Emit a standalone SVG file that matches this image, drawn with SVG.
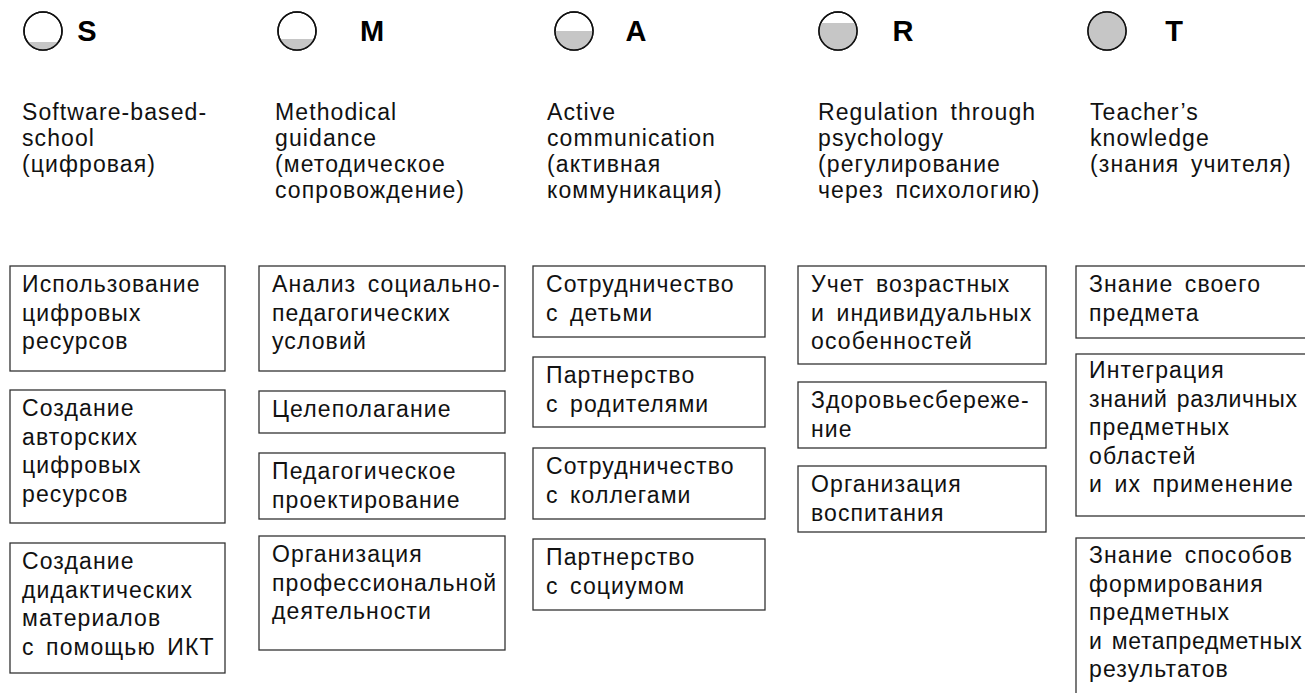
<svg xmlns="http://www.w3.org/2000/svg" width="1305" height="693" viewBox="0 0 1305 693">
<style>
.bg{fill:#fff}
.ring{fill:#fff;stroke:#111;stroke-width:1.5}
.lvl{fill:#c6c6c6}
.letter{font-family:"Liberation Sans",Arial,sans-serif;font-weight:bold;font-size:29px;fill:#000;text-anchor:middle}
.hd{font-family:"Liberation Sans",Arial,sans-serif;font-size:23px;fill:#111;letter-spacing:1.1px;word-spacing:4px}
.box{fill:#fff;stroke:#333;stroke-width:1.3}
.bt{font-family:"Liberation Sans",Arial,sans-serif;font-size:23px;fill:#111;letter-spacing:1.1px;word-spacing:4px}
.tight{letter-spacing:0.7px;word-spacing:2px}
</style>
<defs>
<clipPath id="cc"><circle cx="0" cy="0" r="19"/></clipPath>
</defs>
<rect class="bg" x="0" y="0" width="1305" height="693"/>

<g id="head-S">
<g transform="translate(43,31)"><circle class="ring" r="19"/><rect class="lvl" x="-20" y="11" width="40" height="10" clip-path="url(#cc)"/><circle r="19" fill="none" stroke="#111" stroke-width="1.5"/></g>
<text class="letter" x="87" y="41">S</text>
<text class="hd" x="22" y="120">Software-based-</text>
<text class="hd" x="22" y="146">school</text>
<text class="hd" x="22" y="172">(цифровая)</text>
</g>
<g id="head-M">
<g transform="translate(297,31)"><circle class="ring" r="19"/><rect class="lvl" x="-20" y="8" width="40" height="13" clip-path="url(#cc)"/><circle r="19" fill="none" stroke="#111" stroke-width="1.5"/></g>
<text class="letter" x="372" y="41">M</text>
<text class="hd" x="275" y="120">Methodical</text>
<text class="hd" x="275" y="146">guidance</text>
<text class="hd" x="275" y="172">(методическое</text>
<text class="hd" x="275" y="198">сопровождение)</text>
</g>
<g id="head-A">
<g transform="translate(574,31)"><circle class="ring" r="19"/><rect class="lvl" x="-20" y="0" width="40" height="21" clip-path="url(#cc)"/><circle r="19" fill="none" stroke="#111" stroke-width="1.5"/></g>
<text class="letter" x="636" y="41">A</text>
<text class="hd" x="547" y="120">Active</text>
<text class="hd" x="547" y="146">communication</text>
<text class="hd" x="547" y="172">(активная</text>
<text class="hd" x="547" y="198">коммуникация)</text>
</g>
<g id="head-R">
<g transform="translate(838,31)"><circle class="ring" r="19"/><rect class="lvl" x="-20" y="-8" width="40" height="29" clip-path="url(#cc)"/><circle r="19" fill="none" stroke="#111" stroke-width="1.5"/></g>
<text class="letter" x="903" y="41">R</text>
<text class="hd" x="818" y="120">Regulation through</text>
<text class="hd" x="818" y="146">psychology</text>
<text class="hd" x="818" y="172">(регулирование</text>
<text class="hd" x="818" y="198">через психологию)</text>
</g>
<g id="head-T">
<g transform="translate(1107,31)"><circle class="ring" r="19"/><rect class="lvl" x="-20" y="-20" width="40" height="41" clip-path="url(#cc)"/><circle r="19" fill="none" stroke="#111" stroke-width="1.5"/></g>
<text class="letter" x="1174" y="41">T</text>
<text class="hd" x="1090" y="120">Teacher’s</text>
<text class="hd" x="1090" y="146">knowledge</text>
<text class="hd" x="1090" y="172">(знания учителя)</text>
</g>

<g id="connectors"></g>

<g id="S1"><rect class="box" x="10" y="266" width="215" height="105"/><text class="bt" x="22" y="292">Использование</text><text class="bt" x="22" y="320.5">цифровых</text><text class="bt" x="22" y="349">ресурсов</text></g>
<g id="S2"><rect class="box" x="10" y="390" width="215" height="133"/><text class="bt" x="22" y="416">Создание</text><text class="bt" x="22" y="444.5">авторских</text><text class="bt" x="22" y="473">цифровых</text><text class="bt" x="22" y="501.5">ресурсов</text></g>
<g id="S3"><rect class="box" x="10" y="543" width="215" height="130"/><text class="bt" x="22" y="569">Создание</text><text class="bt" x="22" y="597.5">дидактических</text><text class="bt" x="22" y="626">материалов</text><text class="bt" x="22" y="654.5">с помощью ИКТ</text></g>

<g id="M1"><rect class="box" x="259" y="266" width="246" height="105"/><text class="bt" x="272" y="292">Анализ социально-</text><text class="bt" x="272" y="320.5">педагогических</text><text class="bt" x="272" y="349">условий</text></g>
<g id="M2"><rect class="box" x="259" y="391" width="246" height="42"/><text class="bt" x="272" y="417">Целеполагание</text></g>
<g id="M3"><rect class="box" x="259" y="453" width="246" height="66"/><text class="bt" x="272" y="479">Педагогическое</text><text class="bt" x="272" y="507.5">проектирование</text></g>
<g id="M4"><rect class="box" x="259" y="536" width="246" height="114"/><text class="bt" x="272" y="562">Организация</text><text class="bt" x="272" y="590.5">профессиональной</text><text class="bt" x="272" y="619">деятельности</text></g>

<g id="A1"><rect class="box" x="533" y="266" width="232" height="71"/><text class="bt" x="546" y="292">Сотрудничество</text><text class="bt" x="546" y="320.5">с детьми</text></g>
<g id="A2"><rect class="box" x="533" y="357" width="232" height="70"/><text class="bt" x="546" y="383">Партнерство</text><text class="bt" x="546" y="411.5">с родителями</text></g>
<g id="A3"><rect class="box" x="533" y="448" width="232" height="71"/><text class="bt" x="546" y="474">Сотрудничество</text><text class="bt" x="546" y="502.5">с коллегами</text></g>
<g id="A4"><rect class="box" x="533" y="539" width="232" height="71"/><text class="bt" x="546" y="565">Партнерство</text><text class="bt" x="546" y="593.5">с социумом</text></g>

<g id="R1"><rect class="box" x="798" y="266" width="248" height="98"/><text class="bt" x="811" y="292">Учет возрастных</text><text class="bt" x="811" y="320.5">и индивидуальных</text><text class="bt" x="811" y="349">особенностей</text></g>
<g id="R2"><rect class="box" x="798" y="382" width="248" height="66"/><text class="bt" x="811" y="408">Здоровьесбереже-</text><text class="bt" x="811" y="436.5">ние</text></g>
<g id="R3"><rect class="box" x="798" y="466" width="248" height="66"/><text class="bt" x="811" y="492">Организация</text><text class="bt" x="811" y="520.5">воспитания</text></g>

<g id="T1"><rect class="box" x="1076" y="266" width="240" height="72"/><text class="bt" x="1089" y="292">Знание своего</text><text class="bt" x="1089" y="320.5">предмета</text></g>
<g id="T2"><rect class="box" x="1076" y="354" width="240" height="162"/><text class="bt" x="1089" y="378">Интеграция</text><text class="bt tight" x="1089" y="406.5">знаний различных</text><text class="bt" x="1089" y="435">предметных</text><text class="bt" x="1089" y="463.5">областей</text><text class="bt" x="1089" y="492">и их применение</text></g>
<g id="T3"><rect class="box" x="1076" y="538" width="240" height="170"/><text class="bt" x="1089" y="563">Знание способов</text><text class="bt" x="1089" y="591.5">формирования</text><text class="bt" x="1089" y="620">предметных</text><text class="bt tight" x="1089" y="648.5">и метапредметных</text><text class="bt" x="1089" y="677">результатов</text></g>
</svg>
